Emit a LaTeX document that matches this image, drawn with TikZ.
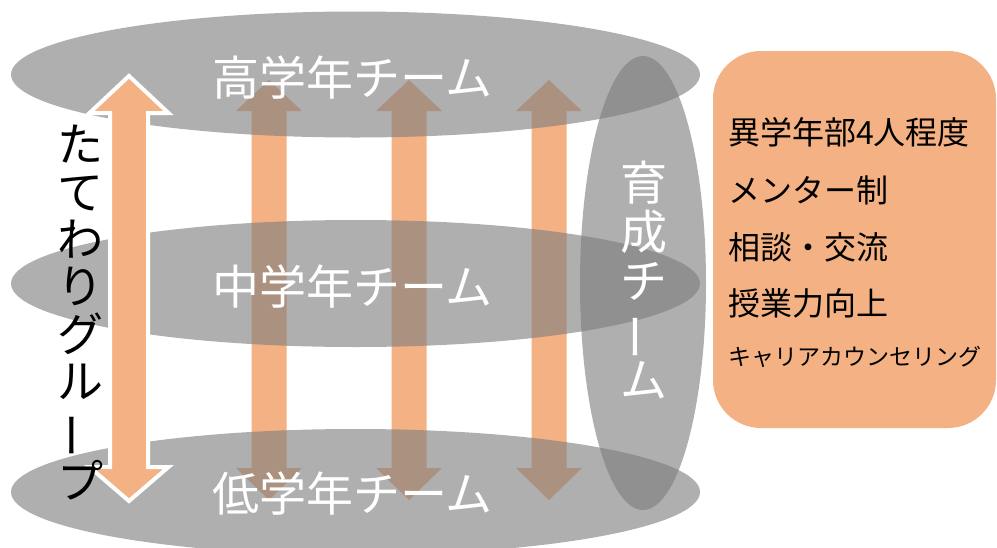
\documentclass[tikz,border=0pt]{standalone}
\usepackage{fontspec}
\usepackage{graphicx}
\setmainfont{Noto Sans CJK JP}
\usetikzlibrary{shapes.geometric}
\definecolor{arroworange}{RGB}{244,177,131}
\definecolor{ellgray}{RGB}{125,125,125}
\tikzset{
  ell/.style={ellipse, fill=ellgray, fill opacity=0.61, draw=none, inner sep=0pt},
  teamlbl/.style={text=white, inner sep=0pt, font=\fontsize{47}{56}\selectfont},
  vtxt/.style={inner sep=0pt, align=center},
  infobox/.style={rectangle, fill=arroworange, draw=none, rounded corners=48pt, inner sep=0pt},
  infotxt/.style={anchor=west, inner sep=0pt, text=black, font=\fontsize{32}{38}\selectfont},
  smallarrow/.style={fill=arroworange},
  bigarrow/.style={fill=arroworange, draw=white, line width=4pt, line join=miter},
}
\begin{document}
\begin{tikzpicture}[x=1pt,y=-1pt]
\useasboundingbox (0,0) rectangle (997,547);
% small double arrows (under the ellipses)
\foreach \cx/\nm in {269/arA, 409/arB, 549/arC}{
  \coordinate (\nm) at (\cx,290);
  \fill[smallarrow] (\cx,80) -- (\cx+33,111) -- (\cx+17.5,111) -- (\cx+17.5,468)
    -- (\cx+33,468) -- (\cx,500) -- (\cx-33,468) -- (\cx-17.5,468)
    -- (\cx-17.5,111) -- (\cx-33,111) -- cycle;
}
% team ellipses
\node[ell, minimum width=689pt, minimum height=126pt] (high) at (355.5,74.5) {};
\node[ell, minimum width=689pt, minimum height=127pt] (mid) at (355.5,283.5) {};
\node[ell, minimum width=689pt, minimum height=126pt] (low) at (355.5,492) {};
\node[ell, minimum width=126pt, minimum height=454pt] (ikusei) at (643,283) {};
% team labels
\node[teamlbl] (hightxt) at (352.5,78) {高学年チーム};
\node[teamlbl] (midtxt) at (352.5,286.5) {中学年チーム};
\node[teamlbl] (lowtxt) at (352.5,494) {低学年チーム};
\node[vtxt, text=white, font=\fontsize{47}{49}\selectfont] (ikuseitxt) at (643.5,280)
  {育\\成\\チ\\\rotatebox[origin=c]{90}{ー}\\ム};
% big double arrow
\coordinate (bigtop) at (129,76);
\coordinate (bigbot) at (129,501);
\draw[bigarrow] (bigtop) -- (168.5,113) -- (148,113) -- (148,467) -- (168.5,467)
  -- (bigbot) -- (89.5,467) -- (110,467) -- (110,113) -- (89.5,113) -- cycle;
% vertical group label
\node[vtxt, text=black, font=\fontsize{46}{47.3}\selectfont] (tate) at (80,312.5)
  {た\\て\\わ\\り\\グ\\ル\\\rotatebox[origin=c]{90}{ー}\\プ};
% info box
\node[infobox, minimum width=283pt, minimum height=377pt] (box) at (854.5,239.5) {};
\node[infotxt] (t1) at (728,132) {異学年部4人程度};
\node[infotxt] (t2) at (728,190) {メンター制};
\node[infotxt] (t3) at (728,247) {相談・交流};
\node[infotxt] (t4) at (728,303) {授業力向上};
\node[infotxt, font=\fontsize{23}{28}\selectfont] (t5) at (728,357) {キャリアカウンセリング};
\end{tikzpicture}
\end{document}
